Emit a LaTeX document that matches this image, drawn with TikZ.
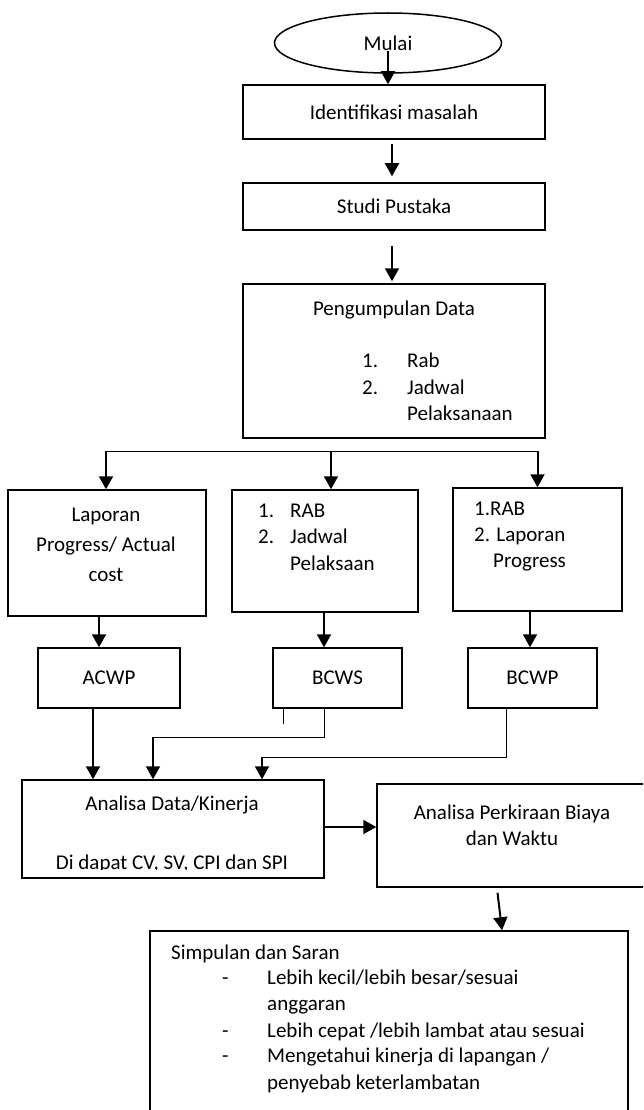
\documentclass[tikz,border=0pt]{standalone}
\usepackage{fontspec}
\setmainfont{Carlito}
\usetikzlibrary{shapes.geometric,arrows.meta}

\begin{document}
\begin{tikzpicture}[x=1pt,y=-1pt,
    kotak/.style={draw,line width=1.5pt,inner sep=0pt},
    teks/.style={inner sep=0pt,font=\fontsize{21}{26}\selectfont},
    kiri/.style={teks,anchor=mid west},
    panah/.style={line width=2pt,-{Triangle[length=13pt,width=14pt]}},
    garis/.style={line width=0.9pt}]
  \useasboundingbox (0,0) rectangle (643,1110);
  \clip (0,0) rectangle (643,1110);
  \node[kotak,teks,ellipse,minimum width=227pt,minimum height=60pt] (mulai) at (388,43) {Mulai};
  \node[kotak,teks,minimum width=302pt,minimum height=54pt] (idm) at (394,112) {Identifikasi masalah};
  \node[kotak,teks,minimum width=302pt,minimum height=47pt] (studi) at (394,206.5) {Studi Pustaka};
  \node[kotak,minimum width=302pt,minimum height=154pt] (data) at (394,361) {};
  \node[teks] (tdata) at (394,310) {Pengumpulan Data};
  \foreach \n/\t/\y in {1./Rab/365,2./Jadwal/392,/Pelaksanaan/418}{
    \node[kiri] (dn\y) at (362,\y) {\n};
    \node[kiri] (dt\y) at (407,\y) {\t};
  }

  \node[kotak,minimum width=198pt,minimum height=126pt] (lap) at (107,553) {};
  \node[teks,align=center,font=\fontsize{21}{30}\selectfont] (tlap) at (106,545) {Laporan\\Progress/ Actual\\cost};
  \node[kotak,minimum width=186pt,minimum height=122pt] (rab) at (325,551) {};
  \foreach \n/\t/\y in {1./RAB/515,2./Jadwal/541,/Pelaksaan/568}{
    \node[kiri] (bn\y) at (258,\y) {\n};
    \node[kiri] (bt\y) at (290,\y) {\t};
  }
  \node[kotak,minimum width=169pt,minimum height=123pt] (rabp) at (537.5,549.5) {};
  \node[kiri] (c1) at (474,513) {1.RAB};
  \node[kiri] (c2) at (474,539) {2. Laporan};
  \node[kiri] (c3) at (493,565) {Progress};

  \node[kotak,teks,minimum width=142pt,minimum height=60pt] (acwp) at (109,678) {ACWP};
  \node[kotak,teks,minimum width=129pt,minimum height=60pt] (bcws) at (337.5,678) {BCWS};
  \node[kotak,teks,minimum width=129pt,minimum height=60pt] (bcwp) at (532.5,678) {BCWP};

  \node[kotak,minimum width=302pt,minimum height=98pt] (anal) at (173,829) {};
  \node[teks] (tanal) at (172,805) {Analisa Data/Kinerja};
  \begin{scope}
    \clip (anal.north west) rectangle (324,869);
    \node[teks] (tdapat) at (172,864) {Di dapat CV, SV, CPI dan SPI};
  \end{scope}
  \node[kotak,minimum width=273pt,minimum height=103pt] (perk) at (513.5,835.5) {};
  \node[teks,align=center] (tperk) at (512,825) {Analisa Perkiraan Biaya\\dan Waktu};

  \node[kotak,minimum width=478pt,minimum height=184pt] (simp) at (389,1023) {};
  \node[kiri] (tsimp) at (171,957) {Simpulan dan Saran};
  \foreach \y in {982,1035,1060}
    \node[kiri] (sd\y) at (222,\y) {-};
  \node[kiri] (s1) at (267,982) {Lebih kecil/lebih besar/sesuai};
  \node[kiri] (s2) at (267,1008) {anggaran};
  \node[kiri] (s3) at (267,1035) {Lebih cepat /lebih lambat atau sesuai};
  \node[kiri] (s4) at (267,1060) {Mengetahui kinerja di lapangan /};
  \node[kiri] (s5) at (267,1087) {penyebab keterlambatan};

  \draw[panah] ([yshift=-8pt]mulai.center) -- (mulai.center |- idm.north);
  \draw[panah,shorten <=4pt,shorten >=6pt] ([xshift=-2pt]idm.south) -- ([xshift=-2pt]studi.north);
  \draw[panah,shorten <=15pt,shorten >=2pt] ([xshift=-2pt]studi.south) -- ([xshift=-2pt]data.north);

  \coordinate (bagi) at (106,451);
  \draw[garis] (bagi) -- (bagi -| rabp.north);
  \draw[panah] (bagi) -- (bagi |- lap.north);
  \draw[panah] ([xshift=6pt]bagi -| rab.north) -- ([xshift=6pt]rab.north);
  \draw[panah] (bagi -| rabp.north) -- (rabp.north);

  \draw[panah] ([xshift=-8pt]lap.south) -- ([xshift=-8pt]lap.south |- acwp.north);
  \draw[panah] ([xshift=-1pt]rab.south) -- ([xshift=-1pt]rab.south |- bcws.north);
  \draw[panah] ([xshift=-7.5pt]rabp.south) -- ([xshift=-7.5pt]rabp.south |- bcwp.north);

  \coordinate (belok1) at (153,737);
  \coordinate (belok2) at (262,757);
  \draw[panah] ([xshift=-16pt]acwp.south) -- ([xshift=-16pt]acwp.south |- anal.north);
  \draw[garis] ([xshift=-54.5pt]bcws.south) -- +(0,15);
  \draw[garis] ([xshift=-13.5pt]bcws.south) |- (belok1);
  \draw[panah] (belok1) -- (belok1 |- anal.north);
  \draw[garis] ([xshift=-26.5pt]bcwp.south) |- (belok2);
  \draw[panah] (belok2) -- (belok2 |- anal.north);

  \draw[panah] ([yshift=2pt]anal.east) -- ([yshift=2pt]anal.east -| perk.west);
  \draw[panah] ([xshift=-16pt,yshift=-5pt]perk.south) -- ([xshift=-11.5pt]perk.south |- simp.north);
\end{tikzpicture}
\end{document}
